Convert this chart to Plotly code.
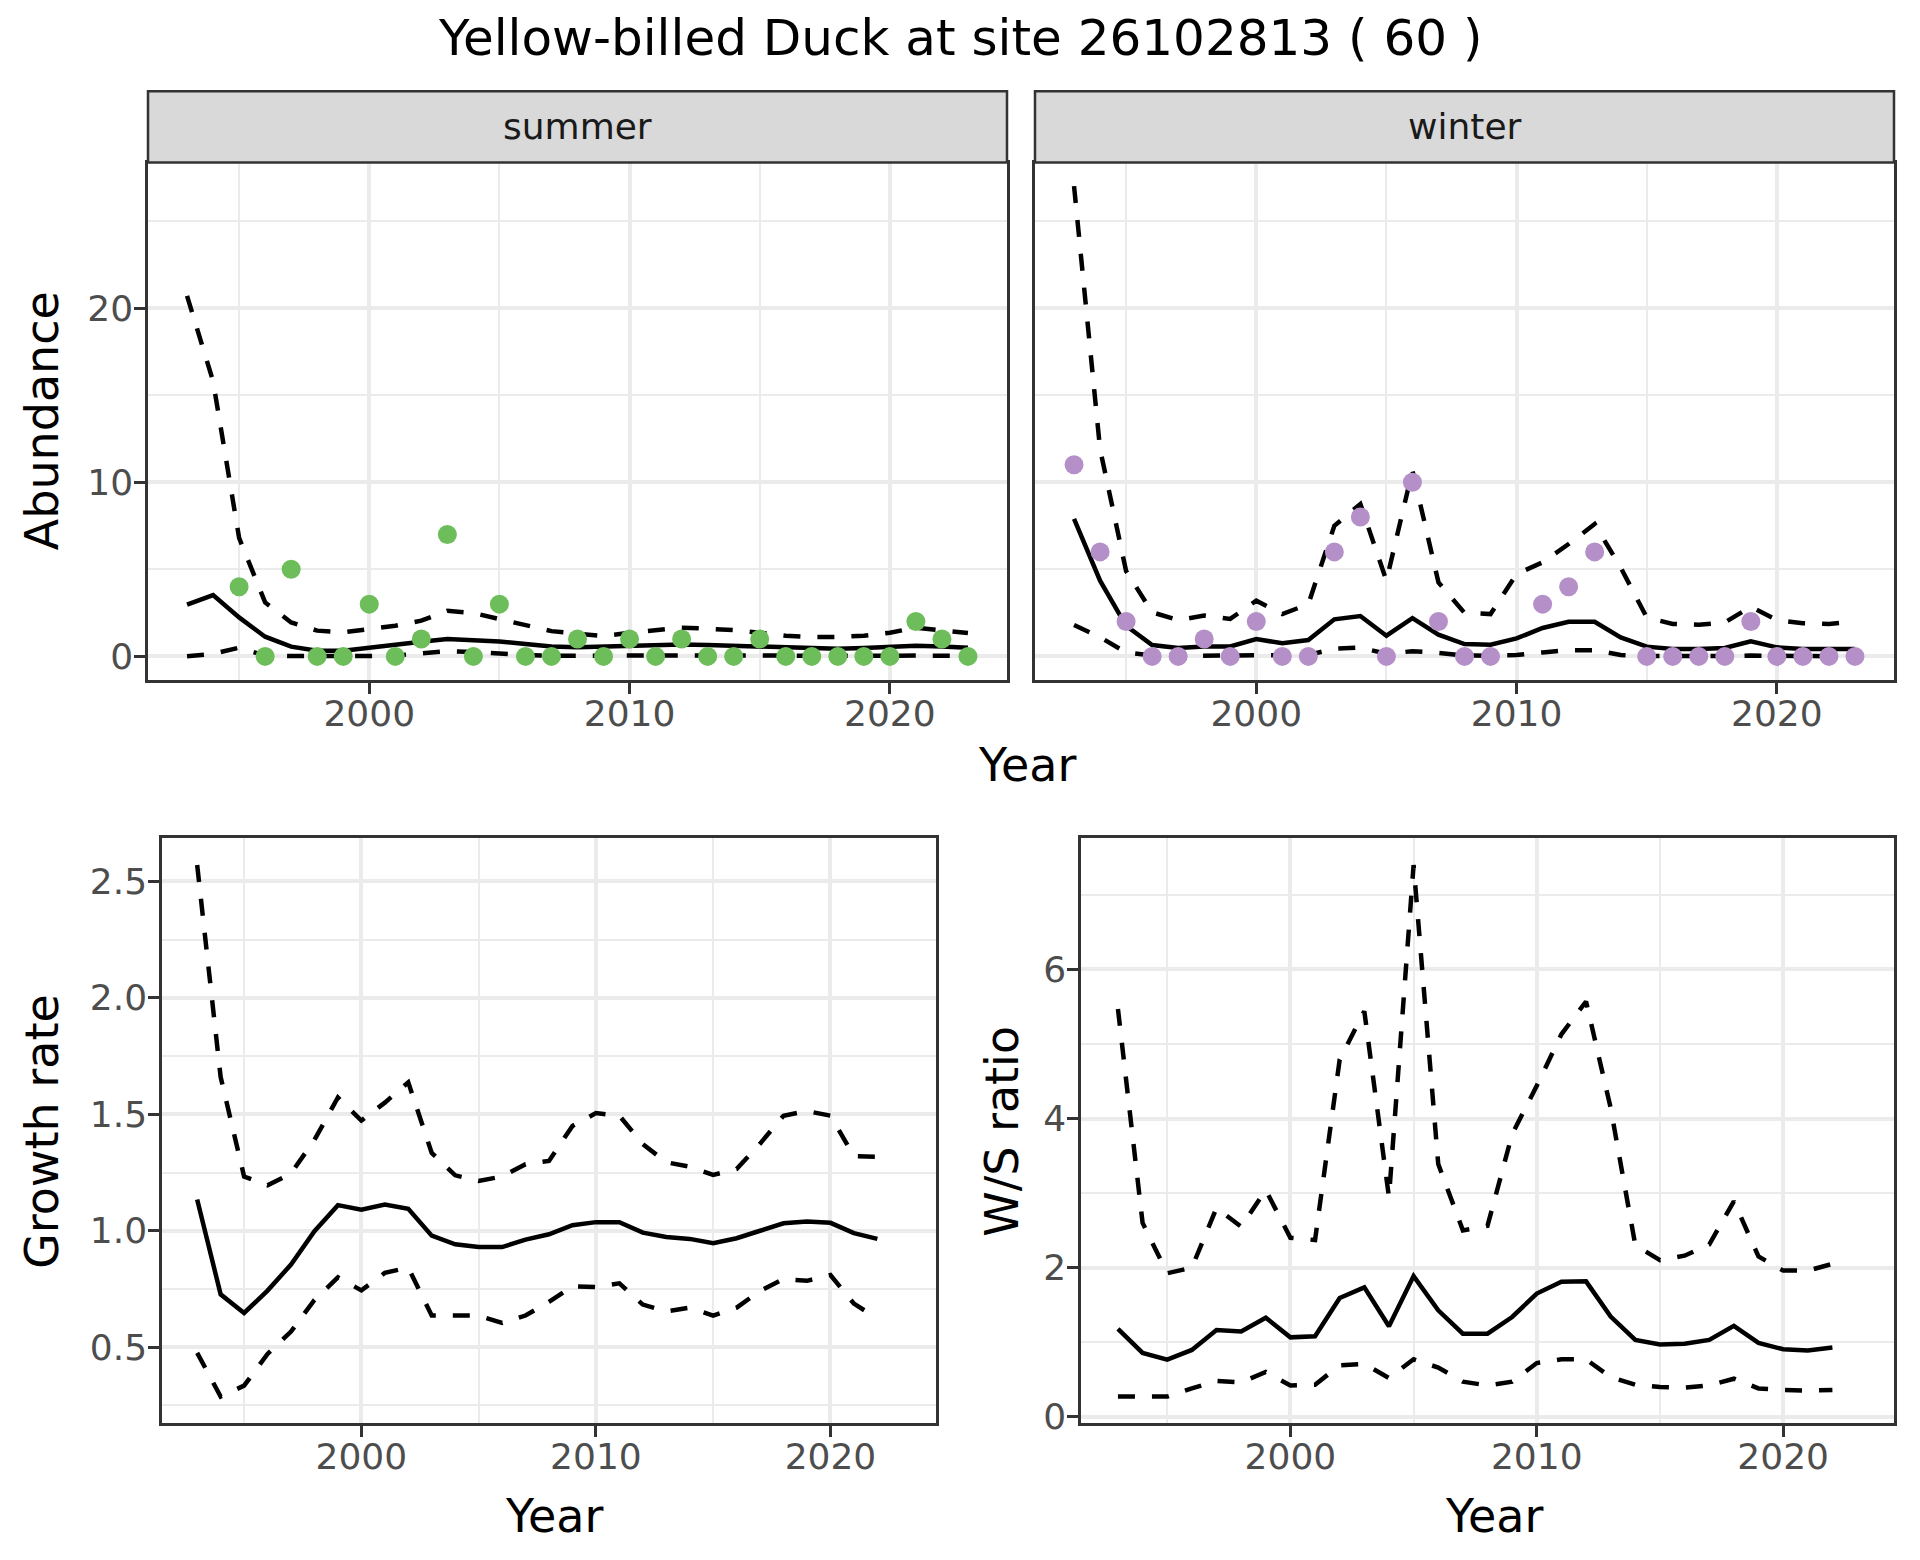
import plotly.graph_objects as go

# ---------------- data ----------------
years = list(range(1993, 2024))
years_ratio = list(range(1993, 2023))

summer_obs = [None, None, 4, 0, 5, 0, 0, 3, 0, 1, 7, 0, 3, 0, 0, 1, 0, 1, 0, 1, 0, 0, 1, 0, 0, 0, 0, 0, 2, 1, 0]
summer_mean = [2.97, 3.52, 2.24, 1.13, 0.56, 0.33, 0.33, 0.52, 0.65, 0.84, 1.0, 0.96, 0.86, 0.71, 0.57, 0.52,
               0.55, 0.59, 0.64, 0.69, 0.65, 0.6, 0.54, 0.48, 0.44, 0.44, 0.48, 0.54, 0.61, 0.57, 0.5]
summer_upper = [20.7, 15.8, 6.8, 3.1, 1.95, 1.48, 1.38, 1.57, 1.76, 2.05, 2.62, 2.49, 2.15, 1.76, 1.45, 1.3,
                1.17, 1.36, 1.49, 1.65, 1.59, 1.51, 1.36, 1.19, 1.11, 1.11, 1.19, 1.36, 1.65, 1.51, 1.34]
summer_lower = [0.01, 0.15, 0.5, 0.05, 0.02, 0.01, 0.01, 0.02, 0.05, 0.15, 0.3, 0.25, 0.15, 0.08, 0.04, 0.03,
                0.03, 0.04, 0.05, 0.06, 0.05, 0.04, 0.03, 0.02, 0.02, 0.02, 0.02, 0.03, 0.05, 0.04, 0.03]

winter_obs = [11, 6, 2, 0, 0, 1, 0, 2, 0, 0, 6, 8, 0, 10, 2, 0, 0, None, 3, 4, 6, None, 0, 0, 0, 0, 2, 0, 0, 0, 0]
winter_mean = [7.9, 4.35, 1.76, 0.65, 0.48, 0.57, 0.57, 1.0, 0.75, 0.94, 2.13, 2.32, 1.19, 2.2, 1.25, 0.71,
               0.67, 1.03, 1.63, 1.99, 1.99, 1.09, 0.56, 0.42, 0.42, 0.48, 0.86, 0.52, 0.42, 0.42, 0.42]
winter_upper = [27.0, 11.9, 4.9, 2.53, 2.09, 2.34, 2.15, 3.2, 2.43, 3.0, 7.5, 8.75, 4.35, 10.67, 4.25, 2.5,
                2.43, 4.73, 5.4, 6.45, 7.6, 5.1, 2.24, 1.86, 1.82, 1.95, 2.85, 2.09, 1.9, 1.86, 2.0]
winter_lower = [1.8, 1.1, 0.23, 0.05, 0.03, 0.04, 0.04, 0.06, 0.05, 0.08, 0.45, 0.5, 0.15, 0.3, 0.2, 0.05,
                0.04, 0.08, 0.23, 0.36, 0.36, 0.08, 0.02, 0.01, 0.01, 0.02, 0.05, 0.02, 0.01, 0.01, 0.01]

growth_mean = [1.134, 0.727, 0.647, 0.743, 0.855, 0.998, 1.11, 1.09, 1.113, 1.094, 0.979, 0.942, 0.93, 0.93,
               0.962, 0.985, 1.024, 1.037, 1.037, 0.992, 0.973, 0.965, 0.947, 0.968, 1.0, 1.032, 1.04, 1.034,
               0.99, 0.965]
growth_upper = [2.57, 1.66, 1.233, 1.195, 1.246, 1.39, 1.572, 1.473, 1.55, 1.637, 1.334, 1.238, 1.214, 1.233,
                1.286, 1.30, 1.45, 1.505, 1.494, 1.372, 1.294, 1.275, 1.24, 1.265, 1.374, 1.494, 1.514, 1.494,
                1.32, 1.318]
growth_lower = [0.476, 0.288, 0.335, 0.471, 0.567, 0.703, 0.80, 0.744, 0.819, 0.842, 0.636, 0.636, 0.636, 0.604,
                0.636, 0.695, 0.762, 0.758, 0.774, 0.683, 0.654, 0.67, 0.636, 0.67, 0.742, 0.793, 0.785, 0.81,
                0.687, 0.623]

ws_mean = [1.18, 0.856, 0.766, 0.896, 1.164, 1.144, 1.328, 1.065, 1.08, 1.592, 1.736, 1.214, 1.886, 1.428,
           1.114, 1.114, 1.338, 1.652, 1.811, 1.816, 1.343, 1.03, 0.97, 0.98, 1.03, 1.219, 0.99, 0.905, 0.89, 0.93]
ws_upper = [5.47, 2.6, 1.925, 2.0, 2.8, 2.55, 3.04, 2.4, 2.37, 4.79, 5.44, 2.945, 7.4, 3.39, 2.5, 2.56, 3.79,
            4.44, 5.13, 5.57, 4.14, 2.3, 2.1, 2.16, 2.31, 2.89, 2.15, 1.96, 1.96, 2.05]
ws_lower = [0.27, 0.27, 0.27, 0.38, 0.48, 0.46, 0.6, 0.42, 0.43, 0.69, 0.71, 0.52, 0.77, 0.66, 0.47, 0.42, 0.47,
            0.72, 0.77, 0.77, 0.53, 0.43, 0.40, 0.39, 0.42, 0.51, 0.38, 0.36, 0.35, 0.36]

title_text = "Yellow-billed Duck at site 26102813 ( 60 )"
facet_labels = ["summer", "winter"]

# ---------------- styling ----------------
W, H = 1920, 1560
FONT = "DejaVu Sans"
GREEN = "#6DBE5A"
PURPLE = "#B58FC8"
LW = 4.5
DASH = "17px,17px"


def px_x(p):
    return p / W


def px_y(p):
    return 1 - p / H


def expand(*series):
    vals = [v for s in series for v in s if v is not None]
    lo, hi = min(vals), max(vals)
    d = (hi - lo) * 0.05
    return [lo - d, hi + d]


x_range = expand(years)

fig = go.Figure()


def add_lines(xs, mean, upper, lower, ax):
    xa, ya = ax
    fig.add_trace(go.Scatter(x=xs, y=upper, mode="lines", line=dict(color="black", width=LW, dash=DASH),
                             xaxis=xa, yaxis=ya, showlegend=False, hoverinfo="skip"))
    fig.add_trace(go.Scatter(x=xs, y=lower, mode="lines", line=dict(color="black", width=LW, dash=DASH),
                             xaxis=xa, yaxis=ya, showlegend=False, hoverinfo="skip"))
    fig.add_trace(go.Scatter(x=xs, y=mean, mode="lines", line=dict(color="black", width=LW),
                             xaxis=xa, yaxis=ya, showlegend=False, hoverinfo="skip"))


add_lines(years, summer_mean, summer_upper, summer_lower, ("x", "y"))
fig.add_trace(go.Scatter(x=years, y=summer_obs, mode="markers", marker=dict(color=GREEN, size=19),
                         xaxis="x", yaxis="y", showlegend=False))
add_lines(years, winter_mean, winter_upper, winter_lower, ("x2", "y2"))
fig.add_trace(go.Scatter(x=years, y=winter_obs, mode="markers", marker=dict(color=PURPLE, size=19),
                         xaxis="x2", yaxis="y2", showlegend=False))
add_lines(years_ratio, growth_mean, growth_upper, growth_lower, ("x3", "y3"))
add_lines(years_ratio, ws_mean, ws_upper, ws_lower, ("x4", "y4"))

# panel geometry (pixels: left, right, top, bottom)
STRIP_TOP = 84
TL = (140, 999, 156, 678)
TR = (1027, 1886, 156, 678)
BL = (154, 928, 838, 1428)
BR = (1073, 1886, 838, 1428)

base_axis = dict(
    showline=True, mirror=True, linecolor="#333333", linewidth=2.5,
    ticks="outside", ticklen=11, tickwidth=2.5, tickcolor="#333333",
    tickfont=dict(family=FONT, size=36, color="#4D4D4D"),
    showgrid=True, gridcolor="#EBEBEB", gridwidth=3.5, zeroline=False,
)


def xaxis(panel, anchor):
    d = dict(base_axis)
    d.update(domain=[px_x(panel[0]), px_x(panel[1])], range=x_range, anchor=anchor,
             tick0=2000, dtick=10, ticklabelstandoff=-11,
             minor=dict(showgrid=True, gridcolor="#EBEBEB", gridwidth=1.8, dtick=5, tick0=1995, ticks=""))
    return d


def yaxis(panel, anchor, rng, dtick, mdtick, fmt=None, labels=True):
    d = dict(base_axis)
    d.update(domain=[px_y(panel[3]), px_y(panel[2])], range=rng, anchor=anchor,
             tick0=0, dtick=dtick, ticklabelstandoff=-6,
             minor=dict(showgrid=True, gridcolor="#EBEBEB", gridwidth=1.8, dtick=mdtick, ticks=""))
    if fmt:
        d["tickformat"] = fmt
    if not labels:
        d.update(showticklabels=False, ticks="")
    return d


abund_range = expand(summer_obs, summer_mean, summer_upper, summer_lower,
                     winter_obs, winter_mean, winter_upper, winter_lower)

fig.update_layout(
    width=W, height=H, margin=dict(l=0, r=0, t=0, b=0),
    paper_bgcolor="white", plot_bgcolor="white",
    font=dict(family=FONT, color="black"),
    xaxis=xaxis(TL, "y"),
    yaxis=yaxis(TL, "x", abund_range, 10, 5),
    xaxis2=xaxis(TR, "y2"),
    yaxis2=yaxis(TR, "x2", abund_range, 10, 5, labels=False),
    xaxis3=xaxis(BL, "y3"),
    yaxis3=yaxis(BL, "x3", expand(growth_mean, growth_upper, growth_lower), 0.5, 0.25, fmt=".1f"),
    xaxis4=xaxis(BR, "y4"),
    yaxis4=yaxis(BR, "x4", expand(ws_mean, ws_upper, ws_lower), 2, 1),
)

shapes = []
annotations = []
for panel, lab in zip([TL, TR], facet_labels):
    shapes.append(dict(type="rect", xref="paper", yref="paper",
                       x0=px_x(panel[0]), x1=px_x(panel[1]), y0=px_y(panel[2]), y1=px_y(STRIP_TOP),
                       fillcolor="#D9D9D9", line=dict(color="#333333", width=2.5), layer="above"))
    annotations.append(dict(text=lab, xref="paper", yref="paper",
                            x=px_x((panel[0] + panel[1]) / 2), y=px_y((STRIP_TOP + panel[2]) / 2),
                            xanchor="center", yanchor="middle",
                            showarrow=False, font=dict(family=FONT, size=36, color="#1A1A1A")))

annotations.append(dict(text=title_text, xref="paper", yref="paper", x=px_x(952), y=1.0,
                        xanchor="center", yanchor="top", showarrow=False, borderpad=0,
                        font=dict(family=FONT, size=50, color="black")))


def add_label(text, x, y, angle=0):
    annotations.append(dict(text=text, xref="paper", yref="paper", x=px_x(x), y=px_y(y),
                            xanchor="center", yanchor="middle", showarrow=False, textangle=angle,
                            font=dict(family=FONT, size=46, color="black")))


add_label("Year", 1019, 764)
add_label("Year", 546, 1522)
add_label("Year", 1486, 1522)
add_label("Abundance", 34, 417, -90)
add_label("Growth rate", 34, 1134, -90)
add_label("W/S ratio", 994, 1134, -90)

fig.update_layout(shapes=shapes, annotations=annotations)

fig.write_html("out.html")
